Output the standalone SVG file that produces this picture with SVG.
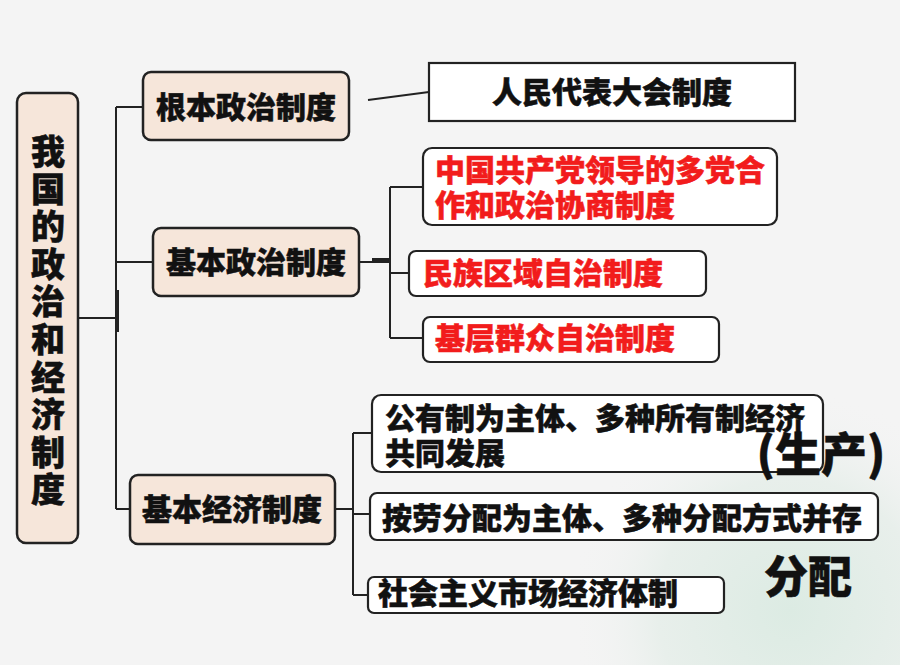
<svg xmlns="http://www.w3.org/2000/svg" width="900" height="665" viewBox="0 0 900 665">
<defs>
<radialGradient id="mint" cx="790" cy="610" r="220" gradientUnits="userSpaceOnUse">
<stop offset="0" stop-color="#dcebe3"/>
<stop offset="0.6" stop-color="#e8efeb"/>
<stop offset="1" stop-color="#f4f4f4" stop-opacity="0"/>
</radialGradient>
<style>
.t{font-family:"Noto Sans CJK SC","Noto Sans",sans-serif;font-weight:900;fill:#111;stroke:#111;stroke-width:0.5;}
.r{fill:#f21c1c;stroke:#f21c1c;}
.peach{fill:#f6e6da;stroke:#222;stroke-width:2.5;}
.white{fill:#fff;stroke:#222;stroke-width:2.2;}
.ln{fill:none;stroke:#222;stroke-width:2;}
</style>
</defs>
<rect width="900" height="665" fill="#f4f4f4"/>
<rect width="900" height="665" fill="url(#mint)"/>

<g id="connectors">
<path class="ln" d="M78 318H116M116 107V509M116 107H143M116 262H153M116 509H130"/>
<path d="M117 290V332" stroke="#222" stroke-width="4"/>
<path class="ln" d="M368 100L429 92"/>
<path class="ln" d="M359 262H390M390 187V338M390 187H423M390 273H409M390 338H423"/>
<path d="M372 260H390" stroke="#222" stroke-width="4"/>
<path class="ln" d="M335 509H353M353 433V595M353 433H372M353 514H370M353 595H368"/>
</g>

<g id="root">
<rect class="peach" x="17" y="93" width="61" height="450" rx="9"/>
<text class="t" x="48" y="134" font-size="34" writing-mode="tb" letter-spacing="3.6">我国的政治和经济制度</text>
</g>

<g id="fundamental">
<rect class="peach" x="143" y="72" width="206" height="68" rx="8"/>
<text class="t" x="246" y="118" font-size="30" text-anchor="middle">根本政治制度</text>
</g>
<g id="npc">
<rect class="white" x="429" y="63" width="366" height="58"/>
<text class="t" x="612" y="103" font-size="30" text-anchor="middle">人民代表大会制度</text>
</g>

<g id="basic-political">
<rect class="peach" x="153" y="228" width="206" height="68" rx="8"/>
<text class="t" x="256" y="273" font-size="30" text-anchor="middle">基本政治制度</text>
</g>
<g id="cpc">
<rect class="white" x="423" y="148" width="354" height="77" rx="9"/>
<text class="t r" font-size="30"><tspan x="435" y="181">中国共产党领导的多党合</tspan><tspan x="435" y="216">作和政治协商制度</tspan></text>
</g>
<g id="ethnic">
<rect class="white" x="409" y="251" width="297" height="45" rx="7"/>
<text class="t r" x="423" y="284" font-size="30">民族区域自治制度</text>
</g>
<g id="grassroots">
<rect class="white" x="423" y="317" width="296" height="45" rx="7"/>
<text class="t r" x="435" y="349" font-size="30">基层群众自治制度</text>
</g>

<g id="basic-economic">
<rect class="peach" x="130" y="475" width="205" height="69" rx="8"/>
<text class="t" x="232" y="520" font-size="30" text-anchor="middle">基本经济制度</text>
</g>
<g id="ownership">
<rect class="white" x="372" y="395" width="451" height="77" rx="9"/>
<text class="t" font-size="30"><tspan x="385" y="429">公有制为主体、多种所有制经济</tspan><tspan x="385" y="464">共同发展</tspan></text>
</g>
<g id="distribution">
<rect class="white" x="370" y="493" width="508" height="47" rx="7"/>
<text class="t" x="382" y="529" font-size="30">按劳分配为主体、多种分配方式并存</text>
</g>
<g id="market">
<rect class="white" x="368" y="577" width="356" height="36" rx="6"/>
<text class="t" x="378" y="604" font-size="30">社会主义市场经济体制</text>
</g>

<text class="t" x="821" y="471" font-size="46" text-anchor="middle">(生产)</text>
<text class="t" x="808" y="593" font-size="44" text-anchor="middle">分配</text>
</svg>
